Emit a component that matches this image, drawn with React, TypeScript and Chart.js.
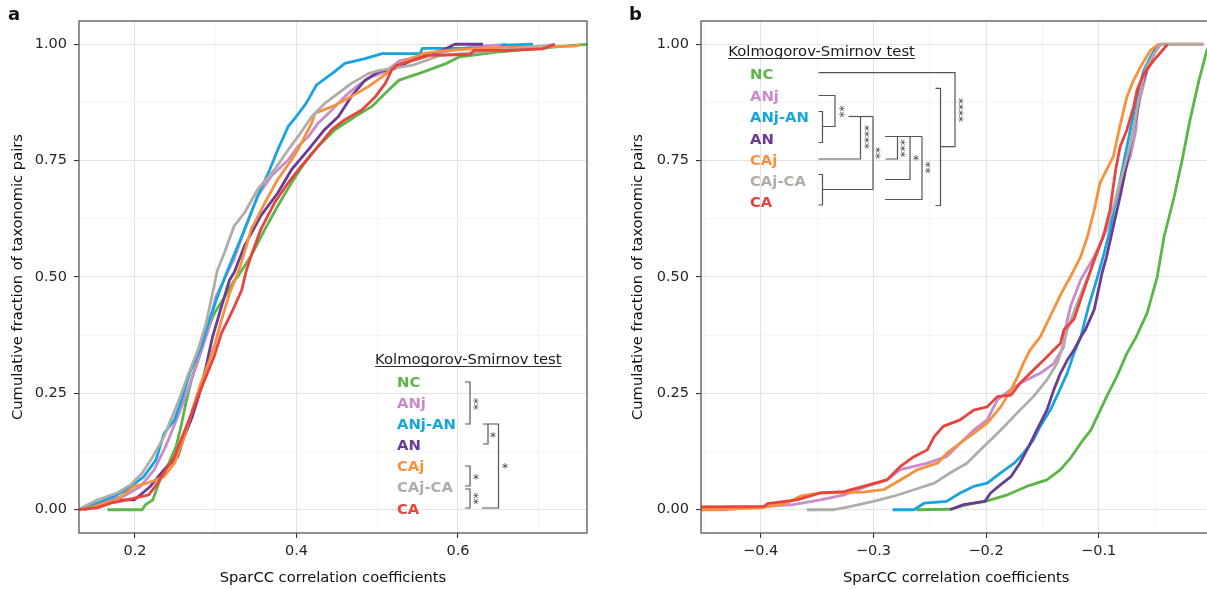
import React, { useEffect, useRef } from "react";
import { Chart, registerables } from "chart.js";
Chart.register(...registerables);

// ---------- series ----------
const SERIES = ["NC", "ANj", "ANj-AN", "AN", "CAj", "CAj-CA", "CA"];
const COLORS = ["#5bb647", "#c98bcb", "#17a5df", "#6b3a92", "#f7913b", "#b2aca7", "#e8433d"];

// Panel a: cumulative fraction vs SparCC coefficient
const A_NC = [[0.166,0],[0.209,0],[0.213,0.011],[0.222,0.021],[0.228,0.05],[0.234,0.079],[0.242,0.1],[0.251,0.136],[0.257,0.179],[0.263,0.229],[0.271,0.286],[0.28,0.336],[0.29,0.386],[0.298,0.421],[0.311,0.457],[0.323,0.493],[0.327,0.5],[0.344,0.546],[0.361,0.603],[0.377,0.653],[0.394,0.703],[0.41,0.745],[0.427,0.781],[0.448,0.817],[0.473,0.845],[0.493,0.866],[0.51,0.895],[0.527,0.923],[0.553,0.938],[0.586,0.959],[0.602,0.973],[0.648,0.983],[0.701,0.991],[0.74,0.997],[0.76,1.0]];
const A_ANj = [[0.13,0],[0.161,0.018],[0.186,0.029],[0.207,0.05],[0.224,0.086],[0.238,0.136],[0.253,0.2],[0.267,0.264],[0.28,0.329],[0.292,0.393],[0.3,0.457],[0.312,0.5],[0.323,0.54],[0.336,0.603],[0.352,0.674],[0.369,0.717],[0.39,0.752],[0.402,0.781],[0.415,0.802],[0.427,0.831],[0.444,0.859],[0.46,0.888],[0.477,0.913],[0.493,0.93],[0.51,0.941],[0.528,0.965],[0.586,0.985],[0.62,0.995],[0.66,1.0]];
const A_ANjAN = [[0.13,0],[0.153,0.014],[0.174,0.029],[0.19,0.043],[0.211,0.071],[0.226,0.107],[0.236,0.164],[0.249,0.193],[0.259,0.243],[0.269,0.3],[0.282,0.35],[0.292,0.407],[0.302,0.457],[0.313,0.507],[0.336,0.603],[0.352,0.674],[0.367,0.731],[0.377,0.774],[0.39,0.824],[0.398,0.841],[0.412,0.873],[0.425,0.913],[0.444,0.937],[0.46,0.959],[0.485,0.969],[0.506,0.98],[0.553,0.98],[0.556,0.991],[0.652,0.991],[0.655,0.998],[0.693,1.0]];
const A_AN = [[0.137,0],[0.161,0.014],[0.182,0.021],[0.199,0.021],[0.219,0.05],[0.236,0.086],[0.253,0.114],[0.261,0.157],[0.271,0.2],[0.28,0.25],[0.288,0.307],[0.296,0.371],[0.307,0.436],[0.317,0.493],[0.323,0.51],[0.336,0.568],[0.356,0.632],[0.377,0.681],[0.394,0.731],[0.415,0.774],[0.435,0.817],[0.452,0.845],[0.468,0.888],[0.485,0.923],[0.502,0.941],[0.522,0.948],[0.544,0.966],[0.581,0.987],[0.596,1.0],[0.631,1.0]];
const A_CAj = [[0.137,0],[0.161,0.014],[0.178,0.021],[0.199,0.05],[0.215,0.057],[0.236,0.071],[0.249,0.1],[0.261,0.157],[0.271,0.214],[0.28,0.264],[0.288,0.3],[0.298,0.35],[0.307,0.407],[0.317,0.464],[0.327,0.507],[0.332,0.532],[0.344,0.603],[0.361,0.66],[0.377,0.71],[0.394,0.752],[0.402,0.774],[0.419,0.831],[0.423,0.852],[0.444,0.866],[0.468,0.888],[0.489,0.909],[0.506,0.93],[0.522,0.952],[0.541,0.969],[0.557,0.98],[0.586,0.987],[0.648,0.993],[0.745,0.996],[0.752,1.0]];
const A_CAjCA = [[0.13,0],[0.153,0.021],[0.178,0.036],[0.195,0.054],[0.209,0.079],[0.222,0.114],[0.236,0.157],[0.253,0.229],[0.265,0.286],[0.278,0.343],[0.288,0.4],[0.296,0.464],[0.302,0.514],[0.311,0.553],[0.323,0.61],[0.336,0.639],[0.352,0.688],[0.373,0.731],[0.39,0.774],[0.402,0.802],[0.419,0.845],[0.435,0.873],[0.452,0.895],[0.468,0.916],[0.489,0.937],[0.503,0.944],[0.544,0.955],[0.578,0.976],[0.627,0.983],[0.677,0.991],[0.72,1.0]];
const A_CA = [[0.13,0],[0.153,0.004],[0.17,0.014],[0.19,0.021],[0.217,0.032],[0.228,0.057],[0.238,0.086],[0.249,0.114],[0.257,0.15],[0.267,0.193],[0.278,0.243],[0.288,0.286],[0.298,0.329],[0.307,0.379],[0.315,0.407],[0.323,0.436],[0.332,0.471],[0.338,0.514],[0.344,0.546],[0.356,0.603],[0.373,0.66],[0.39,0.703],[0.406,0.738],[0.427,0.781],[0.444,0.817],[0.46,0.838],[0.481,0.859],[0.498,0.888],[0.51,0.916],[0.518,0.945],[0.524,0.955],[0.565,0.976],[0.615,0.978],[0.62,0.987],[0.661,0.987],[0.705,0.99],[0.72,1.0]];

// Panel b
const B_NC = [[-0.262,0],[-0.232,0.001],[-0.217,0.011],[-0.199,0.019],[-0.181,0.032],[-0.164,0.05],[-0.146,0.064],[-0.134,0.086],[-0.125,0.111],[-0.116,0.143],[-0.107,0.171],[-0.1,0.207],[-0.093,0.243],[-0.084,0.286],[-0.075,0.336],[-0.067,0.37],[-0.057,0.423],[-0.048,0.501],[-0.042,0.587],[-0.033,0.673],[-0.026,0.751],[-0.019,0.837],[-0.011,0.923],[-0.004,0.987],[-0.001,1.0]];
const B_ANj = [[-0.453,0],[-0.43,0],[-0.394,0.007],[-0.371,0.011],[-0.347,0.021],[-0.326,0.032],[-0.306,0.05],[-0.288,0.064],[-0.276,0.086],[-0.252,0.1],[-0.235,0.114],[-0.223,0.143],[-0.211,0.171],[-0.199,0.193],[-0.19,0.236],[-0.175,0.264],[-0.164,0.279],[-0.152,0.293],[-0.14,0.314],[-0.131,0.35],[-0.13,0.386],[-0.125,0.437],[-0.116,0.494],[-0.104,0.544],[-0.093,0.601],[-0.085,0.659],[-0.079,0.716],[-0.072,0.759],[-0.067,0.816],[-0.066,0.851],[-0.063,0.887],[-0.057,0.944],[-0.051,0.98],[-0.045,1.0]];
const B_ANjAN = [[-0.283,0],[-0.264,0],[-0.255,0.014],[-0.235,0.018],[-0.223,0.036],[-0.211,0.05],[-0.199,0.057],[-0.187,0.079],[-0.175,0.1],[-0.167,0.121],[-0.158,0.15],[-0.152,0.179],[-0.143,0.214],[-0.136,0.25],[-0.128,0.293],[-0.122,0.336],[-0.116,0.371],[-0.109,0.437],[-0.101,0.501],[-0.096,0.544],[-0.09,0.601],[-0.084,0.673],[-0.078,0.744],[-0.072,0.816],[-0.066,0.887],[-0.06,0.944],[-0.054,0.973],[-0.048,0.998],[-0.045,1.0]];
const B_AN = [[-0.232,0],[-0.22,0.011],[-0.201,0.018],[-0.196,0.036],[-0.187,0.054],[-0.178,0.071],[-0.17,0.1],[-0.162,0.136],[-0.155,0.171],[-0.146,0.214],[-0.14,0.257],[-0.134,0.293],[-0.128,0.321],[-0.122,0.343],[-0.116,0.371],[-0.112,0.386],[-0.104,0.43],[-0.097,0.509],[-0.093,0.544],[-0.087,0.609],[-0.081,0.673],[-0.075,0.744],[-0.069,0.816],[-0.066,0.851],[-0.063,0.901],[-0.057,0.951],[-0.048,0.994],[-0.045,1.0]];
const B_CAj = [[-0.453,0],[-0.4,0.004],[-0.377,0.014],[-0.365,0.029],[-0.347,0.036],[-0.326,0.037],[-0.309,0.038],[-0.291,0.043],[-0.276,0.064],[-0.261,0.086],[-0.243,0.1],[-0.235,0.121],[-0.223,0.143],[-0.211,0.164],[-0.199,0.186],[-0.187,0.221],[-0.178,0.257],[-0.172,0.286],[-0.167,0.314],[-0.161,0.343],[-0.152,0.371],[-0.143,0.416],[-0.133,0.466],[-0.125,0.501],[-0.116,0.544],[-0.11,0.587],[-0.104,0.644],[-0.099,0.701],[-0.093,0.73],[-0.087,0.759],[-0.082,0.816],[-0.075,0.887],[-0.069,0.923],[-0.063,0.951],[-0.054,0.987],[-0.048,0.998],[-0.045,1.0],[-0.007,1.0]];
const B_CAjCA = [[-0.359,0],[-0.335,0],[-0.32,0.007],[-0.3,0.018],[-0.282,0.029],[-0.264,0.043],[-0.246,0.057],[-0.232,0.079],[-0.217,0.1],[-0.205,0.129],[-0.193,0.157],[-0.181,0.186],[-0.17,0.214],[-0.158,0.243],[-0.146,0.279],[-0.137,0.314],[-0.131,0.357],[-0.128,0.386],[-0.119,0.444],[-0.107,0.516],[-0.096,0.587],[-0.087,0.651],[-0.078,0.73],[-0.07,0.801],[-0.065,0.873],[-0.059,0.944],[-0.051,0.98],[-0.045,1.0],[-0.007,1.0]];
const B_CA = [[-0.453,0.006],[-0.397,0.007],[-0.394,0.013],[-0.368,0.021],[-0.347,0.036],[-0.326,0.039],[-0.309,0.05],[-0.288,0.064],[-0.276,0.093],[-0.264,0.114],[-0.252,0.129],[-0.246,0.157],[-0.238,0.179],[-0.223,0.193],[-0.211,0.214],[-0.199,0.221],[-0.19,0.243],[-0.178,0.246],[-0.17,0.271],[-0.158,0.3],[-0.149,0.321],[-0.14,0.343],[-0.134,0.357],[-0.131,0.386],[-0.122,0.409],[-0.115,0.459],[-0.109,0.501],[-0.103,0.544],[-0.096,0.587],[-0.09,0.644],[-0.085,0.73],[-0.081,0.78],[-0.075,0.816],[-0.069,0.866],[-0.066,0.901],[-0.06,0.937],[-0.051,0.966],[-0.042,0.991],[-0.039,1.0]];

// ---------- ticks ----------
const Y_MAJOR = [0, 0.25, 0.5, 0.75, 1.0];
const Y_MINOR = [0.125, 0.375, 0.625, 0.875];
const A_X_MAJOR = [0.2, 0.4, 0.6];
const A_X_MINOR = [0.3, 0.5, 0.7];
const B_X_MAJOR = [-0.4, -0.3, -0.2, -0.1];
const B_X_MINOR = [-0.45, -0.35, -0.25, -0.15, -0.05];

const X_TITLE = "SparCC correlation coefficients";
const Y_TITLE = "Cumulative fraction of taxonomic pairs";
const KS_TITLE = "Kolmogorov-Smirnov test";

// ---------- annotations (canvas pixel layout) ----------
const A_ANNOT = {
  letter: { text: "a", x: 8, y: 20 },
  title: { x: 375, y: 364 },
  labelX: 397,
  labelY: [381.7, 402.5, 423.5, 445, 466, 487, 508.3],
  lines: [
    [[465, 382], [470, 382], [470, 424], [465, 424]],
    [[483, 424], [498.5, 424], [498.5, 508], [482, 508]],
    [[488, 424], [488, 444], [483, 444]],
    [[465, 466], [470, 466], [470, 486], [465, 486]],
    [[465, 489], [470, 489], [470, 508], [465, 508]],
  ],
  stars: [
    { t: "**", x: 476, y: 404, r: true },
    { t: "*", x: 493, y: 435, r: false },
    { t: "*", x: 505, y: 466, r: false },
    { t: "*", x: 476, y: 477, r: false },
    { t: "**", x: 476, y: 498.5, r: true },
  ],
};
const BX = 620; // panel b canvas offset
const B_ANNOT = {
  letter: { text: "b", x: 629 - BX, y: 20 },
  title: { x: 728.3 - BX, y: 56 },
  labelX: 750 - BX,
  labelY: [74, 95.5, 117, 138.5, 159.5, 181, 202],
  lines: [
    [[818.5, 72.7], [955, 72.7], [955, 146.7], [940.5, 146.7]],
    [[935.5, 88.3], [940.5, 88.3], [940.5, 205.5], [935.5, 205.5]],
    [[818.5, 95.5], [835, 95.5], [835, 126.5], [822.5, 126.5]],
    [[818.5, 111.5], [822.5, 111.5], [822.5, 142.5], [818.5, 142.5]],
    [[848.5, 116.5], [873, 116.5]],
    [[860.5, 116.5], [860.5, 159], [818.5, 159]],
    [[873, 116.5], [873, 189.5], [822.5, 189.5]],
    [[818.5, 174.5], [822.5, 174.5], [822.5, 205], [818.5, 205]],
    [[885, 136.5], [922, 136.5]],
    [[897.5, 136.5], [897.5, 159], [885.5, 159]],
    [[910, 136.5], [910, 179.5], [885, 179.5]],
    [[922, 136.5], [922, 199.5], [885, 199.5]],
  ].map((seg) => seg.map(([x, y]) => [x - BX, y])),
  stars: [
    { t: "**", x: 842, y: 111.5, r: true },
    { t: "****", x: 866.5, y: 137, r: true },
    { t: "**", x: 878.3, y: 153, r: true },
    { t: "***", x: 903, y: 148.3, r: true },
    { t: "*", x: 916, y: 157.5, r: false },
    { t: "**", x: 928.3, y: 167.5, r: true },
    { t: "****", x: 960.5, y: 110, r: true },
  ].map((s) => ({ ...s, x: s.x - BX })),
};

const FAMILY = "'DejaVu Sans', sans-serif";

function drawInk(ctx: CanvasRenderingContext2D, text: string, cx: number, cy: number, rot: boolean) {
  ctx.save();
  ctx.textAlign = "center";
  ctx.textBaseline = "alphabetic";
  const m = ctx.measureText(text);
  const a = m.actualBoundingBoxAscent, d = m.actualBoundingBoxDescent;
  ctx.translate(cx, cy);
  if (rot) ctx.rotate(-Math.PI / 2);
  ctx.fillText(text, 0, (a - d) / 2);
  ctx.restore();
}

function makeDecor(annot: any) {
  return {
    id: "decor",
    afterDatasetsDraw(chart: any) {
      const { ctx, chartArea } = chart;
      const { left, top, right, bottom } = chartArea;
      ctx.save();
      // panel frame
      ctx.strokeStyle = "#555555";
      ctx.lineWidth = 1.3;
      ctx.strokeRect(left, top, right - left, bottom - top);
      // panel letter
      ctx.fillStyle = "#111";
      ctx.font = `bold 18px ${FAMILY}`;
      ctx.textAlign = "left";
      ctx.textBaseline = "alphabetic";
      ctx.fillText(annot.letter.text, annot.letter.x, annot.letter.y);
      // KS title, underlined
      ctx.font = `14.8px ${FAMILY}`;
      ctx.fillStyle = "#1a1a1a";
      ctx.fillText(KS_TITLE, annot.title.x, annot.title.y);
      const w = ctx.measureText(KS_TITLE).width;
      ctx.strokeStyle = "#333";
      ctx.lineWidth = 1;
      ctx.beginPath();
      ctx.moveTo(annot.title.x, annot.title.y + 2.5);
      ctx.lineTo(annot.title.x + w, annot.title.y + 2.5);
      ctx.stroke();
      // group labels
      ctx.font = `bold 14.8px ${FAMILY}`;
      SERIES.forEach((name, i) => {
        ctx.fillStyle = COLORS[i];
        ctx.fillText(name, annot.labelX, annot.labelY[i] + 5.4);
      });
      // brackets
      ctx.strokeStyle = "#555";
      ctx.lineWidth = 1.2;
      ctx.lineJoin = "miter";
      annot.lines.forEach((seg: number[][]) => {
        ctx.beginPath();
        seg.forEach(([x, y], j) => (j === 0 ? ctx.moveTo(x, y) : ctx.lineTo(x, y)));
        ctx.stroke();
      });
      ctx.fillStyle = "#444";
      ctx.font = `12px ${FAMILY}`;
      annot.stars.forEach((s: any) => drawInk(ctx, s.t, s.x, s.y, s.r));
      ctx.restore();
    },
  };
}

function isIn(arr: number[], v: number) {
  return arr.some((a) => Math.abs(a - v) < 1e-9);
}

function fmtX(v: number) {
  const s = Math.abs(v).toFixed(1);
  return v < 0 ? "\u2212" + s : s;
}

function buildConfig(p: any) {
  const datasets = p.series
    .map((pts: number[][], i: number) => ({
      label: SERIES[i],
      data: pts.map(([x, y]) => ({ x, y })),
      borderColor: COLORS[i],
      backgroundColor: COLORS[i],
      borderWidth: 2.8,
      pointRadius: 0,
      showLine: true,
      fill: false,
      tension: 0,
      borderJoinStyle: "round",
    }))
    .reverse(); // last group drawn on top, as in the original
  const gridFor = (major: number[]) => ({
    display: true,
    drawTicks: true,
    tickLength: 5,
    color: (c: any) => (isIn(major, c.tick.value) ? "#e4e4e4" : "#f2f2f2"),
    lineWidth: (c: any) => (isIn(major, c.tick.value) ? 1.1 : 0.8),
    tickColor: (c: any) => (isIn(major, c.tick.value) ? "#333" : "rgba(0,0,0,0)"),
    tickWidth: 1.1,
  });
  return {
    type: "scatter",
    data: { datasets },
    options: {
      animation: false,
      responsive: false,
      events: [],
      layout: { padding: { left: 0, top: 21, right: p.padRight, bottom: 0 } },
      plugins: { legend: { display: false }, tooltip: { enabled: false } },
      scales: {
        x: {
          type: "linear",
          min: p.xMin,
          max: p.xMax,
          afterBuildTicks: (s: any) => {
            s.ticks = [...p.xMajor, ...p.xMinor].sort((a, b) => a - b).map((v) => ({ value: v }));
          },
          afterFit: (s: any) => {
            s.height = 57;
          },
          border: { display: false },
          grid: gridFor(p.xMajor),
          ticks: {
            autoSkip: false,
            maxRotation: 0,
            padding: 5,
            color: "#262626",
            font: { family: FAMILY, size: 14.5 },
            callback: (v: number) => (isIn(p.xMajor, v) ? fmtX(v) : ""),
          },
          title: {
            display: true,
            text: X_TITLE,
            color: "#111",
            font: { family: FAMILY, size: 14.7 },
            padding: { top: 0, bottom: 3 },
          },
        },
        y: {
          type: "linear",
          min: -0.05,
          max: 1.05,
          afterBuildTicks: (s: any) => {
            s.ticks = [...Y_MAJOR, ...Y_MINOR].sort((a, b) => a - b).map((v) => ({ value: v }));
          },
          afterFit: (s: any) => {
            s.width = p.yWidth;
          },
          border: { display: false },
          grid: gridFor(Y_MAJOR),
          ticks: {
            autoSkip: false,
            padding: 7,
            color: "#262626",
            font: { family: FAMILY, size: 14.5 },
            callback: (v: number) => (isIn(Y_MAJOR, v) ? v.toFixed(2) : ""),
          },
          title: {
            display: true,
            text: Y_TITLE,
            color: "#111",
            font: { family: FAMILY, size: 14.7 },
            padding: { top: 9.4, bottom: 0 },
          },
        },
      },
    },
    plugins: [makeDecor(p.annot)],
  };
}

const PANEL_A = {
  series: [A_NC, A_ANj, A_ANjAN, A_AN, A_CAj, A_CAjCA, A_CA],
  xMin: 0.1307,
  xMax: 0.7598,
  xMajor: A_X_MAJOR,
  xMinor: A_X_MINOR,
  yWidth: 79,
  padRight: 13,
  annot: A_ANNOT,
};
const PANEL_B = {
  series: [B_NC, B_ANj, B_ANjAN, B_AN, B_CAj, B_CAjCA, B_CA],
  xMin: -0.453,
  xMax: 0.0,
  xMajor: B_X_MAJOR,
  xMinor: B_X_MINOR,
  yWidth: 81,
  padRight: 8.6,
  annot: B_ANNOT,
};

export default function App() {
  const refA = useRef<HTMLCanvasElement>(null);
  const refB = useRef<HTMLCanvasElement>(null);
  useEffect(() => {
    const a = new Chart(refA.current as HTMLCanvasElement, buildConfig(PANEL_A) as any);
    const b = new Chart(refB.current as HTMLCanvasElement, buildConfig(PANEL_B) as any);
    return () => {
      a.destroy();
      b.destroy();
    };
  }, []);
  return (
    <div
      style={{
        position: "fixed",
        left: 0,
        top: 0,
        width: 1207,
        height: 590,
        overflow: "hidden",
        background: "#ffffff",
      }}
    >
      <canvas
        ref={refA}
        width={600}
        height={590}
        style={{ position: "absolute", left: 0, top: 0, width: 600, height: 590 }}
      />
      <canvas
        ref={refB}
        width={600}
        height={590}
        style={{ position: "absolute", left: BX, top: 0, width: 600, height: 590 }}
      />
    </div>
  );
}
